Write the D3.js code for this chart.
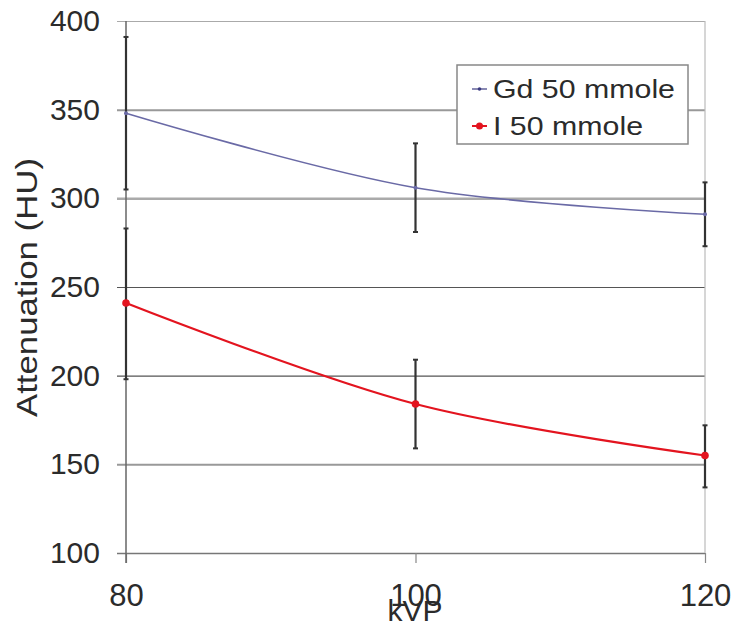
<!DOCTYPE html>
<html>
<head>
<meta charset="utf-8">
<script src="https://cdn.jsdelivr.net/npm/d3@7"></script>
<style>
body{margin:0;background:#fff;}
text{font-family:"Liberation Sans",Arial,sans-serif;fill:#2b2b2b;}
</style>
</head>
<body>
<script>
// DATA
var kvp=[80,100,120];
var gdMean=[348,306,291];
var gdLow=[305,281,273];
var gdHigh=[391,331,309];
var iMean=[241,184,155];
var iLow=[198,159,137];
var iHigh=[283,209,172];
var yTicks=[100,150,200,250,300,350,400];
var xTicks=[80,100,120];
var seriesNames=["Gd 50 mmole","I 50 mmole"];

// SVG
var width=733, height=633;
var plotLeft=126, plotRight=705, plotTop=21, plotBottom=553;
var svg=d3.select("body").append("svg").attr("width",width).attr("height",height);

var x=d3.scaleLinear().domain([80,120]).range([plotLeft,plotRight]);
var y=d3.scaleLinear().domain([100,400]).range([plotBottom,plotTop]);

// gridline look (jpeg-ish variation in the original)
var gridStyle={100:["#777",1.5],150:["#999",2],200:["#555",1.2],250:["#555",1.2],300:["#aaa",2.5],350:["#999",2],400:["#aaa",1.2]};

// y axis with gridlines
var yAxis=svg.append("g")
  .attr("transform","translate("+plotRight+",0)")
  .call(d3.axisLeft(y).tickValues(yTicks).tickSize(plotRight-117).tickPadding(17));
yAxis.select(".domain").remove();
yAxis.selectAll(".tick line")
  .attr("stroke",function(d){return gridStyle[d][0];})
  .attr("stroke-width",function(d){return gridStyle[d][1];});
yAxis.selectAll("text").attr("font-size",30).attr("fill","#2b2b2b").attr("font-family",null);

// right border
svg.append("line").attr("x1",plotRight).attr("x2",plotRight).attr("y1",plotTop).attr("y2",plotBottom)
  .attr("stroke","#bbb").attr("stroke-width",1.2);

// x axis
var xAxis=svg.append("g")
  .attr("transform","translate(0,"+plotBottom+")")
  .call(d3.axisBottom(x).tickValues(xTicks).tickSize(10).tickPadding(21));
xAxis.select(".domain").remove();
xAxis.selectAll(".tick line").attr("stroke","#888").attr("stroke-width",1.2);
xAxis.selectAll("text").attr("font-size",31).attr("fill","#2b2b2b").attr("font-family",null);

// vertical y axis line
svg.append("line").attr("x1",plotLeft).attr("x2",plotLeft).attr("y1",plotTop).attr("y2",plotBottom+10)
  .attr("stroke","#666").attr("stroke-width",1.5);

// axis titles
svg.append("text").attr("x",415).attr("y",621).attr("text-anchor","middle")
  .attr("font-size",30).text("kVP");
svg.append("text").attr("transform","translate(37,"+(158+417)/2+") rotate(-90)")
  .attr("text-anchor","middle").attr("font-size",29)
  .attr("textLength",259).attr("lengthAdjust","spacingAndGlyphs")
  .text("Attenuation (HU)");

var line=d3.line().x(function(d){return x(d[0]);}).y(function(d){return y(d[1]);}).curve(d3.curveCatmullRom.alpha(0.5));

function drawSeries(mean,low,high,color,lw,r){
  var pts=kvp.map(function(k,i){return [k,mean[i]];});
  svg.append("path").datum(pts).attr("d",line).attr("fill","none")
    .attr("stroke",color).attr("stroke-width",lw);
  var g=svg.append("g");
  kvp.forEach(function(k,i){
    g.append("line").attr("x1",x(k)).attr("x2",x(k)).attr("y1",y(low[i])).attr("y2",y(high[i]))
      .attr("stroke","#333").attr("stroke-width",2.2);
    [low[i],high[i]].forEach(function(v){
      g.append("line").attr("x1",x(k)-2.5).attr("x2",x(k)+2.5).attr("y1",y(v)).attr("y2",y(v))
        .attr("stroke","#333").attr("stroke-width",2);
    });
  });
  svg.selectAll(null).data(pts).enter().append("circle")
    .attr("cx",function(d){return x(d[0]);}).attr("cy",function(d){return y(d[1]);})
    .attr("r",r).attr("fill",color);
}
drawSeries(gdMean,gdLow,gdHigh,"#6a6aa6",1.6,2);
drawSeries(iMean,iLow,iHigh,"#e3141f",2.2,3.8);

// legend
var lg=svg.append("g");
lg.append("rect").attr("x",457).attr("y",65).attr("width",231).attr("height",79)
  .attr("fill","#fff").attr("stroke","#888").attr("stroke-width",1.5);
var legColors=["#3a3a80","#e3141f"], legR=[1.8,3.5], legY=[89,126], legW=[182,150];
seriesNames.forEach(function(n,i){
  lg.append("line").attr("x1",472).attr("x2",487).attr("y1",legY[i]).attr("y2",legY[i])
    .attr("stroke",legColors[i]).attr("stroke-width",i?2:1.2);
  lg.append("circle").attr("cx",479.5).attr("cy",legY[i]).attr("r",legR[i]).attr("fill",legColors[i]);
  lg.append("text").attr("x",493).attr("y",legY[i]+9).attr("font-size",26)
    .attr("textLength",legW[i]).attr("lengthAdjust","spacingAndGlyphs").text(n);
});
</script>
</body>
</html>
